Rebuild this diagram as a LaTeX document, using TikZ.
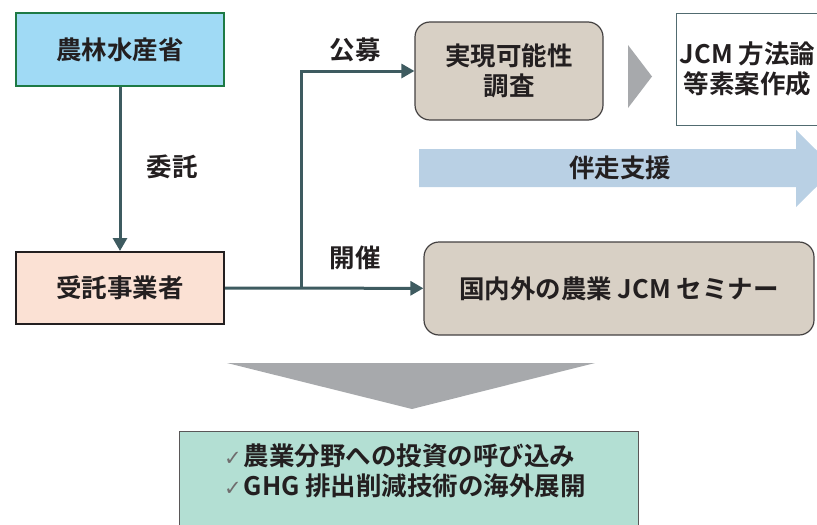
\documentclass[tikz,border=0pt]{standalone}
\usepackage{fontspec}
\setmainfont{Noto Sans CJK JP}[BoldFont={Noto Sans CJK JP Bold}]
\newfontfamily\symfont{DejaVu Sans}
\usepackage{tikz}
\usetikzlibrary{arrows.meta}

\definecolor{maffblue}{HTML}{A0DAF5}
\definecolor{maffgreen}{HTML}{1E7A45}
\definecolor{peach}{HTML}{FBE1D4}
\definecolor{beige}{HTML}{D8D0C5}
\definecolor{slate}{HTML}{3E5B60}
\definecolor{arrowgray}{HTML}{A7A9AC}
\definecolor{supportblue}{HTML}{B9D0E4}
\definecolor{mint}{HTML}{B3DFD3}
\definecolor{ink}{HTML}{231F20}

\newcommand{\chk}{{\symfont\mdseries\fontsize{21}{30}\selectfont\color{ink!65}✓}\hspace{2pt}}

\begin{document}
\begin{tikzpicture}[x=1pt, y=-1pt,
    every node/.style = {font=\fontsize{25.5}{30}\selectfont\bfseries, text=ink},
    box/.style = {draw, rectangle, align=center},
    soft/.style = {box, rounded corners=15pt, fill=beige, draw=ink!85, line width=1.2pt},
    conn/.style = {draw=slate, line width=3pt, -{Triangle[length=13pt,width=14pt]}},
    lbl/.style = {inner sep=0pt}]
    \useasboundingbox (0,0) rectangle (817,525);

    % background shapes
    \fill[supportblue] (419,149) -- (796,149) -- (796,130) -- (835,168.5)
        -- (796,207) -- (796,187) -- (419,187) -- cycle;
    \fill[arrowgray] (628,45) -- (652,76.5) -- (628,108) -- cycle;
    \fill[arrowgray] (227,363) -- (595,363) -- (412,409) -- cycle;

    \node[box, fill=maffblue, draw=maffgreen, line width=2pt,
          minimum width=208pt, minimum height=73pt] (maff) at (120,49.5) {農林水産省};
    \node[box, fill=peach, draw=ink, line width=2pt,
          minimum width=208pt, minimum height=72pt] (jutaku) at (120,288) {受託事業者};
    \node[soft, minimum width=188pt, minimum height=98pt] (chosa) at (509,71) {実現可能性\\調査};
    \node[soft, minimum width=390pt, minimum height=93pt] (seminar) at (619,288.5) {国内外の農業 JCM セミナー};
    \node[box, fill=white, draw=slate!90, line width=1pt,
          minimum width=141pt, minimum height=112pt] (hoho) at (747.5,69) {JCM 方法論\\等素案作成};
    \node[lbl] (bansou) at (620,168) {伴走支援};

    \node[lbl] (koubo) at (355,50) {公募};
    \node[lbl] (itaku) at (172,167) {委託};
    \node[lbl] (kaisai) at (355,258) {開催};

    \node[box, fill=mint, draw=ink!75, line width=1pt,
          minimum width=459pt, minimum height=110pt] (outcome) at (408.5,486) {};
    \node[anchor=north west, align=left, inner sep=0pt] (effects) at (224,444)
        {\chk 農業分野への投資の呼び込み\\
         \chk GHG 排出削減技術の海外展開};

    \coordinate (branch) at (301,288.5);
    \draw[conn] (maff) -- (jutaku);
    \draw[conn] (jutaku) -- (seminar);
    \draw[conn] (branch) |- (chosa.west);
  \end{tikzpicture}
\end{document}
